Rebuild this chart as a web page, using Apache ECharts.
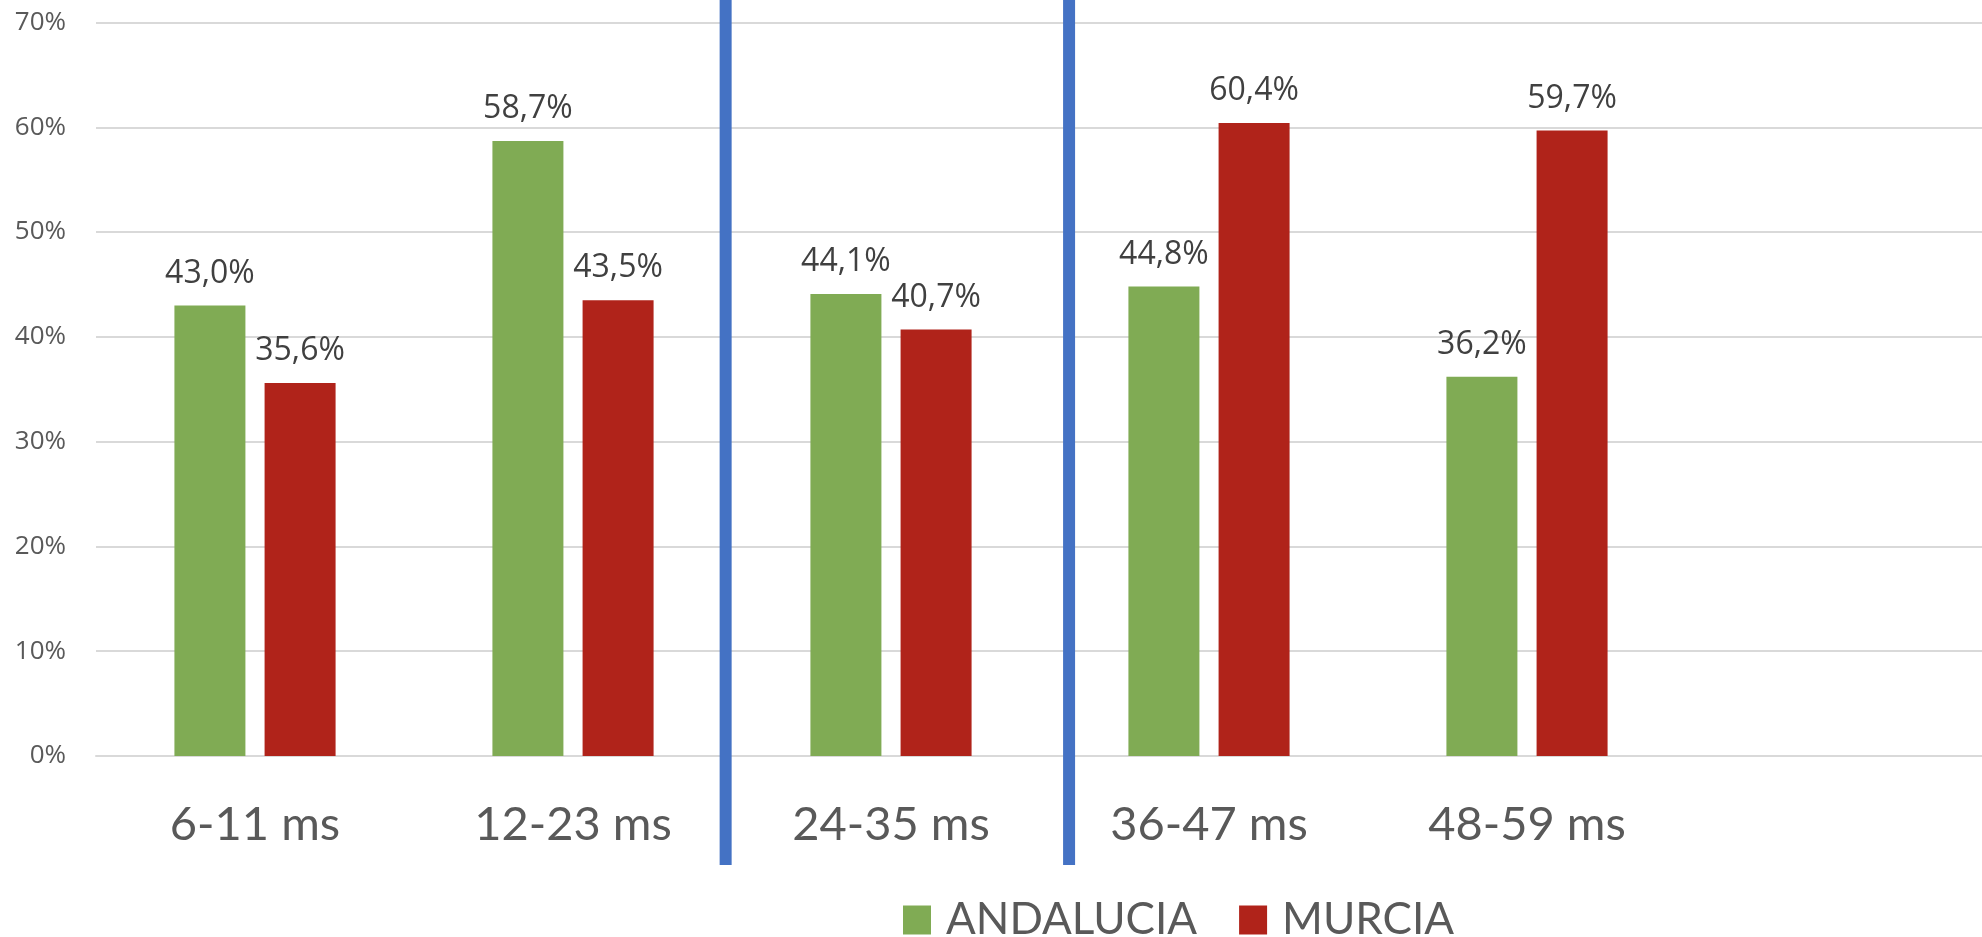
<!DOCTYPE html>
<html>
<head>
<meta charset="utf-8">
<script src="https://cdn.jsdelivr.net/npm/echarts@6/dist/echarts.min.js"></script>
<style>html,body{margin:0;padding:0;background:#fff;}#c{width:1982px;height:937px;}</style>
</head>
<body>
<div id="c"></div>
<script>
const categories = ['6-11 ms', '12-23 ms', '24-35 ms', '36-47 ms', '48-59 ms', ''];
const andalucia = [43.0, 58.7, 44.1, 44.8, 36.2];
const murcia = [35.6, 43.5, 40.7, 60.4, 59.7];
const yTicks = [0, 10, 20, 30, 40, 50, 60, 70];
const separators = [1.48, 2.56]; // positions in category-index units (0 = centre of first category)

const chart = echarts.init(document.getElementById('c'));
const fmt = p => p.value.toFixed(1).replace('.', ',') + '%';
const labelStyle = {
  show: true, position: 'top', distance: 16, formatter: fmt,
  color: '#404040', fontSize: 32, fontFamily: 'Open Sans'
};
chart.setOption({
  animation: false,
  backgroundColor: '#ffffff',
  grid: { left: 96, right: -22, top: 22.5, bottom: 181, outerBoundsMode: 'none', containLabel: false },
  legend: {
    left: 898, top: 893, itemWidth: 28, itemHeight: 29, itemGap: 42,
    icon: 'rect',
    textStyle: { fontSize: 44, fontFamily: 'Lato', color: '#595959', padding: [0, 0, 0, 10] },
    data: ['ANDALUCIA', 'MURCIA']
  },
  xAxis: {
    type: 'category', data: categories,
    axisLine: { show: true, lineStyle: { color: '#d9d9d9', width: 2 } },
    axisTick: { show: false },
    axisLabel: { fontSize: 47, fontFamily: 'Lato', color: '#595959', margin: 45 }
  },
  yAxis: {
    type: 'value', min: yTicks[0], max: yTicks[yTicks.length - 1], interval: 10,
    axisLine: { show: false }, axisTick: { show: false },
    splitLine: { lineStyle: { color: '#d9d9d9', width: 2 } },
    axisLabel: { formatter: v => v + '%', fontSize: 26, fontFamily: 'Open Sans', color: '#595959', margin: 30 }
  },
  series: [
    { name: 'ANDALUCIA', type: 'bar', data: andalucia, barWidth: 71, barGap: '27%',
      itemStyle: { color: '#80AB54' }, label: labelStyle },
    { name: 'MURCIA', type: 'bar', data: murcia, barWidth: 71,
      itemStyle: { color: '#B0231A' }, label: labelStyle }
  ]
});

// Blue separator lines, positioned from the category axis scale
const p0 = chart.convertToPixel({ xAxisIndex: 0 }, 0);
const p1 = chart.convertToPixel({ xAxisIndex: 0 }, 1);
const band = p1 - p0;
chart.setOption({
  graphic: separators.map(s => ({
    type: 'rect',
    shape: { x: p0 + s * band - 6, y: 0, width: 12, height: 865 },
    style: { fill: '#4472C4' },
    z: 100
  }))
});
</script>
</body>
</html>
